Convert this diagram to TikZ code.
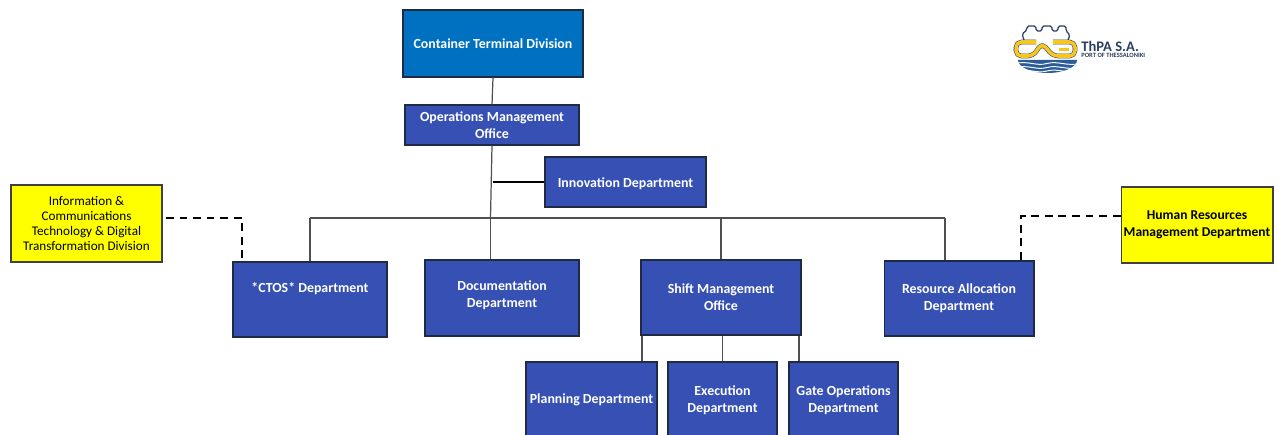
\documentclass[tikz,border=0pt]{standalone}
\usepackage{fontspec}
\usepackage{xcolor}
\usetikzlibrary{calc, positioning}
\setmainfont{Carlito}
\definecolor{divblue}{HTML}{0070C0}
\definecolor{deptblue}{HTML}{3650B4}
\definecolor{edgedark}{HTML}{1F2A44}
\definecolor{linegray}{HTML}{505050}
\definecolor{boxyellow}{RGB}{255,255,0}
\definecolor{logoyellow}{HTML}{F7C71E}
\definecolor{logoblue}{HTML}{2A5C9A}
\definecolor{logodark}{HTML}{2B3F63}
\tikzset{
    dept/.style={draw=edgedark, fill=deptblue, text=white, font=\fontsize{7.9}{9.6}\selectfont\bfseries, align=center, inner sep=0pt, line width=0.6pt},
    support/.style={draw=black!75, fill=boxyellow, text=black, font=\fontsize{7.5}{8.7}\selectfont, align=center, inner sep=0pt, line width=0.6pt},
    link/.style={draw=linegray, line width=0.7pt},
    dashlink/.style={draw=black, line width=0.9pt, dash pattern=on 4.5pt off 3.2pt}
}
\begin{document}
\begin{tikzpicture}[x=0.02cm, y=-0.02cm]
    \clip (0, 0) rectangle (1277, 435);
    \fill[white] (0, 0) rectangle (1277, 435);

    % boxes, minimum size from the picture
    \node[dept, fill=divblue, minimum width=3.6cm, minimum height=1.34cm] (division) at (493, 43.5) {Container Terminal Division};
    \node[dept, minimum width=3.48cm, minimum height=0.8cm] (operations) at (492, 125) {Operations Management\\Office};
    \node[dept, text height=7.5pt, minimum width=3.22cm, minimum height=1cm] (innovation) at (625.5, 182) {Innovation Department};
    \node[dept, text depth=14pt, minimum width=3.08cm, minimum height=1.5cm] (ctos) at (310, 299.5) {*CTOS* Department};
    \node[dept, text depth=4.5pt, minimum width=3.08cm, minimum height=1.52cm] (documentation) at (502, 298) {Documentation\\Department};
    \node[dept, minimum width=3.2cm, minimum height=1.5cm] (shift) at (721, 297.5) {Shift Management\\Office};
    \node[dept, minimum width=3cm, minimum height=1.5cm] (resource) at (959, 298.5) {Resource Allocation\\Department};
    \node[dept, minimum width=2.62cm, minimum height=1.52cm] (planning) at (591.5, 400) {Planning Department};
    \node[dept, minimum width=2.18cm, minimum height=1.52cm] (execution) at (722.5, 400) {Execution\\Department};
    \node[dept, minimum width=2.18cm, minimum height=1.52cm] (gate) at (843.5, 400) {Gate Operations\\Department};
    \node[support, minimum width=3.02cm, minimum height=1.54cm] (ict) at (86.5, 223.5) {Information \&\\Communications\\Technology \& Digital\\Transformation Division};
    \node[support, font=\fontsize{7.7}{9.6}\selectfont\bfseries, minimum width=3.04cm, minimum height=1.52cm] (hr) at (1197, 225) {Human Resources\\Management Department};

    % junctions
    \coordinate (busleft) at (ctos.north |- 0, 218);
    \coordinate (busright) at (945, 218);
    \coordinate (busdoc) at (490.5, 218);
    \coordinate (busshift) at (shift.north |- 0, 218);
    \coordinate (innojoin) at (492.5, 182);
    \coordinate (ictcorner) at (242, 218);
    \coordinate (ictstart) at (166, 218);
    \coordinate (hrcorner) at (1021, 216);
    \coordinate (hrstart) at (hr.west |- 0, 216);

    \draw[link]
    (division.south) edge (operations.north)
    (operations.south) edge (busdoc)
    (busdoc) edge (busdoc |- documentation.north)
    (busleft) edge (busright)
    (busleft) edge (ctos.north)
    (busshift) edge (shift.north)
    (busright) edge (busright |- resource.north)
    (shift.south -| 642, 0) edge (642, 0 |- planning.north)
    (shift.south -| execution.north) edge (execution.north)
    (shift.south -| 799, 0) edge (799, 0 |- gate.north);
    \draw[black, line width=0.9pt] (innojoin) -- (innovation.west);
    \draw[dashlink] (ictstart) -- (ictcorner) -- (ictcorner |- ctos.north);
    \draw[dashlink] (hrstart) -- (hrcorner) -- (hrcorner |- resource.north);

    % logo
    \draw[logodark, line width=0.7pt, rounded corners=1pt] (1024, 40) -- (1022, 34) -- (1027, 30) -- (1027, 26) -- (1036, 26) -- (1036, 31) -- (1042, 31) -- (1042, 26) -- (1052, 26) -- (1052, 31) -- (1058, 31) -- (1058, 26) -- (1066, 26) -- (1066, 31) -- (1070, 35) -- (1068, 40);
    \fill[logoblue] (1018, 60) -- (1077, 60) arc[start angle=0, end angle=180, x radius=29.5, y radius=13] -- cycle;
    \foreach \wy in {63.5, 67.5, 71} {
        \draw[white, line width=0.55pt] (1014, \wy) .. controls (1030, \wy-3) and (1036, \wy+3) .. (1047, \wy) .. controls (1058, \wy-3) and (1066, \wy+3) .. (1080, \wy);
    }
    \draw[logodark, line width=2.6pt, line join=round, rounded corners=3pt] (1036, 42) -- (1016, 42) -- (1016, 56) -- (1033, 56) -- (1042, 43) -- (1053, 56) -- (1075, 56) -- (1075, 42) -- (1053, 42);
    \draw[logoyellow, line width=2pt, line join=round, rounded corners=3pt] (1036, 42) -- (1016, 42) -- (1016, 56) -- (1033, 56) -- (1042, 43) -- (1053, 56) -- (1075, 56) -- (1075, 42) -- (1053, 42);
    \draw[logoyellow, line width=1.6pt] (1059, 49.5) -- (1069, 49.5);
    \node[anchor=west, inner sep=0pt, text=logodark, font=\fontsize{8.3}{9}\selectfont\bfseries] (logoname) at (1081, 46.5) {ThPA S.A.};
    \node[anchor=west, inner sep=0pt, text=logodark, font=\fontsize{3.7}{4}\selectfont\bfseries] (logosub) at (1081, 55.5) {PORT OF THESSALONIKI};
\end{tikzpicture}
\end{document}
